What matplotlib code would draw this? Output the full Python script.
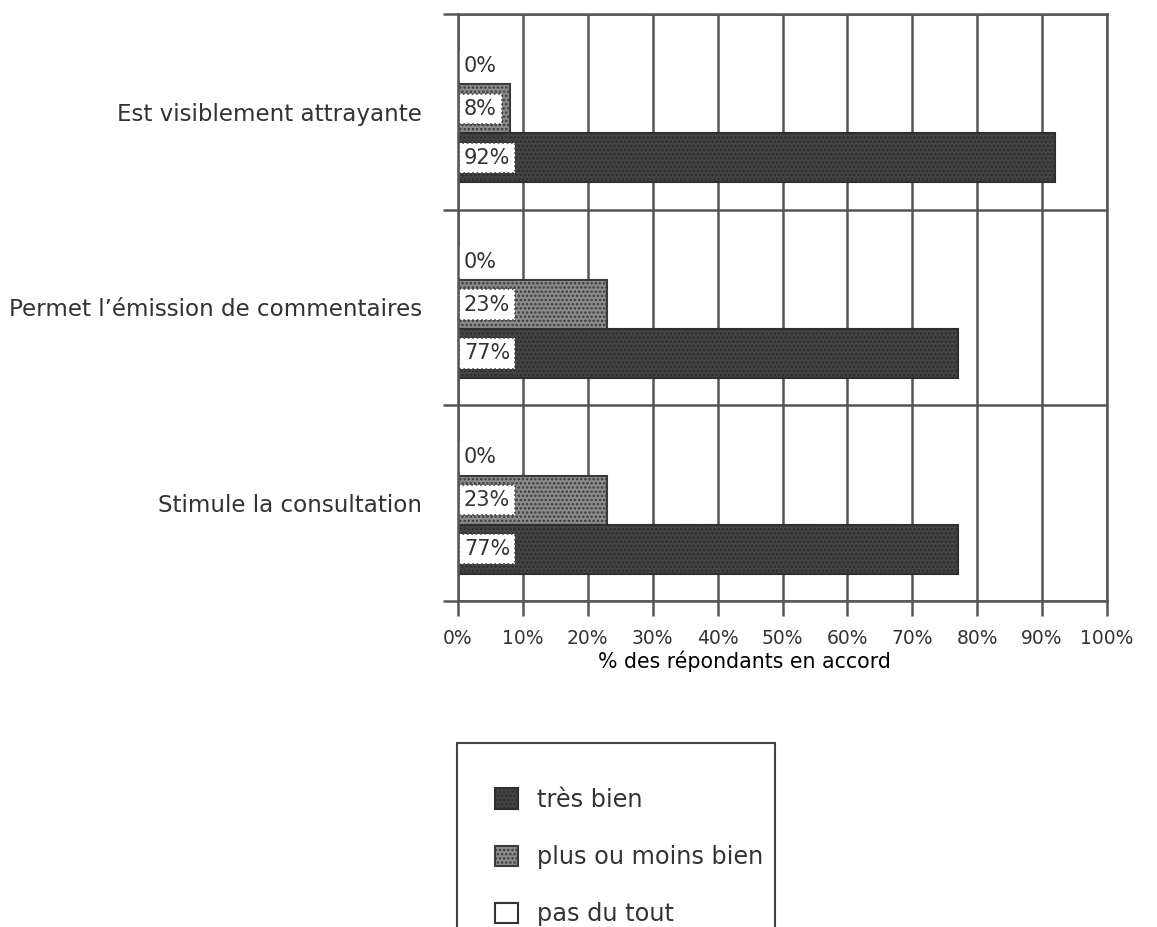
import matplotlib.pyplot as plt
from matplotlib.patches import Rectangle

plt.rcParams['font.family'] = ['DejaVu Sans']
plt.rcParams['text.color'] = '#333333'
plt.rcParams['xtick.color'] = '#555555'
plt.rcParams['ytick.color'] = '#555555'
plt.rcParams['xtick.labelcolor'] = '#333333'
plt.rcParams['ytick.labelcolor'] = '#333333'
plt.rcParams['hatch.linewidth'] = 1.2

# survey answers, one value per statement
statements = ["Est visiblement attrayante",
              "Permet l\u2019émission de commentaires",
              "Stimule la consultation"]
tres_bien = [92, 77, 77]
plus_ou_moins = [8, 23, 23]
pas_du_tout = [0, 0, 0]
x_ticks = [0, 10, 20, 30, 40, 50, 60, 70, 80, 90, 100]

LINE = '#555555'
LW = 1.8

fig = plt.figure(figsize=(11.57, 9.27), dpi=100)
ax = fig.add_axes([458 / 1157, 1 - 601 / 927, (1107 - 458) / 1157, (601 - 14) / 927])

pos = list(range(len(statements)))
h = 0.25
series = [
    (pas_du_tout, -0.265, 'pas du tout', dict(facecolor='white', edgecolor='#333333')),
    (plus_ou_moins, -0.015, 'plus ou moins bien',
     dict(facecolor='#8c8c8c', edgecolor='#3a3a3a', hatch='....')),
    (tres_bien, 0.235, 'très bien',
     dict(facecolor='#444444', edgecolor='#2e2e2e', hatch='....')),
]

handles = {}
for values, off, name, style in series:
    ys = [p + off for p in pos]
    bars = ax.barh(ys, values, height=h, linewidth=1.5, label=name, **style)
    handles[name] = bars
    for y, v in zip(ys, values):
        box = dict(boxstyle='square,pad=0.25', facecolor='white',
                   edgecolor='#444444' if v > 0 else 'none',
                   linestyle=':', linewidth=1.2)
        ty = y + 0.03 if v == 0 else y
        ax.text(0.9, ty, f"{v}%", ha='left', va='center', fontsize=15,
                color='#333333', bbox=box)

ax.set_xlim(0, 100)
ax.set_ylim(2.5, -0.5)
ax.set_xticks(x_ticks)
ax.set_xticklabels([f"{t}%" for t in x_ticks], fontsize=13.5)
ax.tick_params(axis='x', length=11, width=LW, pad=9)
ax.set_xlabel("% des répondants en accord", fontsize=14.8, labelpad=3)
ax.xaxis.set_label_coords(0.442, -0.085)

# category boundaries carry the lines, names sit on minor ticks
ax.set_yticks([-0.5, 0.5, 1.5, 2.5])
ax.set_yticklabels([])
ax.tick_params(axis='y', which='major', length=11, width=LW)
ax.set_yticks(pos, minor=True)
ax.set_yticklabels(statements, minor=True, fontsize=16.6)
ax.tick_params(axis='y', which='minor', length=0, pad=26)

ax.grid(True, color=LINE, linewidth=LW)
ax.set_axisbelow(True)
for s in ax.spines.values():
    s.set_color(LINE)
    s.set_linewidth(LW)
    s.set_zorder(5)

# legend frame runs past the bottom edge
fig.patches.append(Rectangle((457 / 1157, 1 - 960 / 927), (775 - 457) / 1157, (960 - 743) / 927,
                             transform=fig.transFigure, facecolor='none',
                             edgecolor='#444444', linewidth=1.5))
order = ['très bien', 'plus ou moins bien', 'pas du tout']
fig.legend([handles[n] for n in order], order, loc='upper left',
           bbox_to_anchor=(495 / 1157, 1 - 788 / 927), frameon=False,
           fontsize=17.3, borderpad=0, borderaxespad=0, handlelength=0.95,
           handleheight=0.95, handletextpad=0.8, labelspacing=1.38)

fig.savefig("out.png", dpi=100)
